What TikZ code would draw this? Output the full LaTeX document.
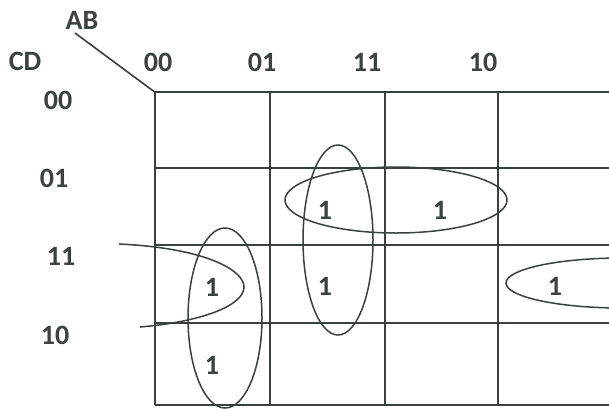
\documentclass[tikz,border=0pt]{standalone}
\usepackage{fontspec}
\setmainfont{Carlito}
\usepackage{tikz}
\usetikzlibrary{positioning}
\definecolor{ink}{HTML}{3C4142}
\definecolor{gridline}{HTML}{3A3F40}

\begin{document}
\begin{tikzpicture}[x=1pt,y=-1pt,
    lbl/.style={font=\fontsize{28}{30}\selectfont\bfseries,text=ink,inner sep=0pt},
    one/.style={font=\fontsize{28}{30}\selectfont\bfseries,text=ink,inner sep=0pt},
    group/.style={draw=gridline,line width=1.5pt}]
  \useasboundingbox (0,0) rectangle (609,408);
  % grid
  \draw[gridline,line width=1.6pt] (155,92) -- (609,92);
  \draw[gridline,line width=1.6pt] (155,168) -- (609,168);
  \draw[gridline,line width=1.6pt] (155,245) -- (609,245);
  \draw[gridline,line width=1.6pt] (155,323) -- (609,323);
  \draw[gridline,line width=1.6pt] (155,405) -- (609,405);
  \draw[gridline,line width=1.6pt] (155,92) -- (155,405);
  \draw[gridline,line width=1.6pt] (270,92) -- (270,405);
  \draw[gridline,line width=1.6pt] (385,92) -- (385,405);
  \draw[gridline,line width=1.6pt] (498,92) -- (498,405);
  % headings
  \node[lbl] (ab) at (82,20) {AB};
  \node[lbl] (cd) at (25,61) {CD};
  \coordinate (corner) at (156,93);
  \draw[gridline,line width=1.6pt] (75,33) -- (corner);
  \node[lbl] (c00) at (158,62) {00};
  \node[lbl] (c01) at (262,62) {01};
  \node[lbl] (c11) at (367,62) {11};
  \node[lbl] (c10) at (483,62) {10};
  \node[lbl] (r00) at (58,100) {00};
  \node[lbl] (r01) at (54,178) {01};
  \node[lbl] (r11) at (61,256) {11};
  \node[lbl] (r10) at (55,335) {10};
  % ones
  \node[one] (m3) at (212,287) {1};
  \node[one] (m2) at (212,365) {1};
  \node[one] (m5) at (325,210) {1};
  \node[one] (m7) at (325,286) {1};
  \node[one] (m13) at (440,210) {1};
  \node[one] (m11) at (555,286) {1};
  % groupings
  \draw[group] (225,318) ellipse (37 and 90);
  \draw[group] (338,240) ellipse (35 and 95);
  \draw[group] (396,200) ellipse (111 and 33);
  \draw[group] (622,283) ellipse (116 and 25);
  \draw[group] (119,244) .. controls (205,248) and (244,270) .. (244,287)
    .. controls (244,306) and (200,322) .. (140,327);
\end{tikzpicture}
\end{document}
